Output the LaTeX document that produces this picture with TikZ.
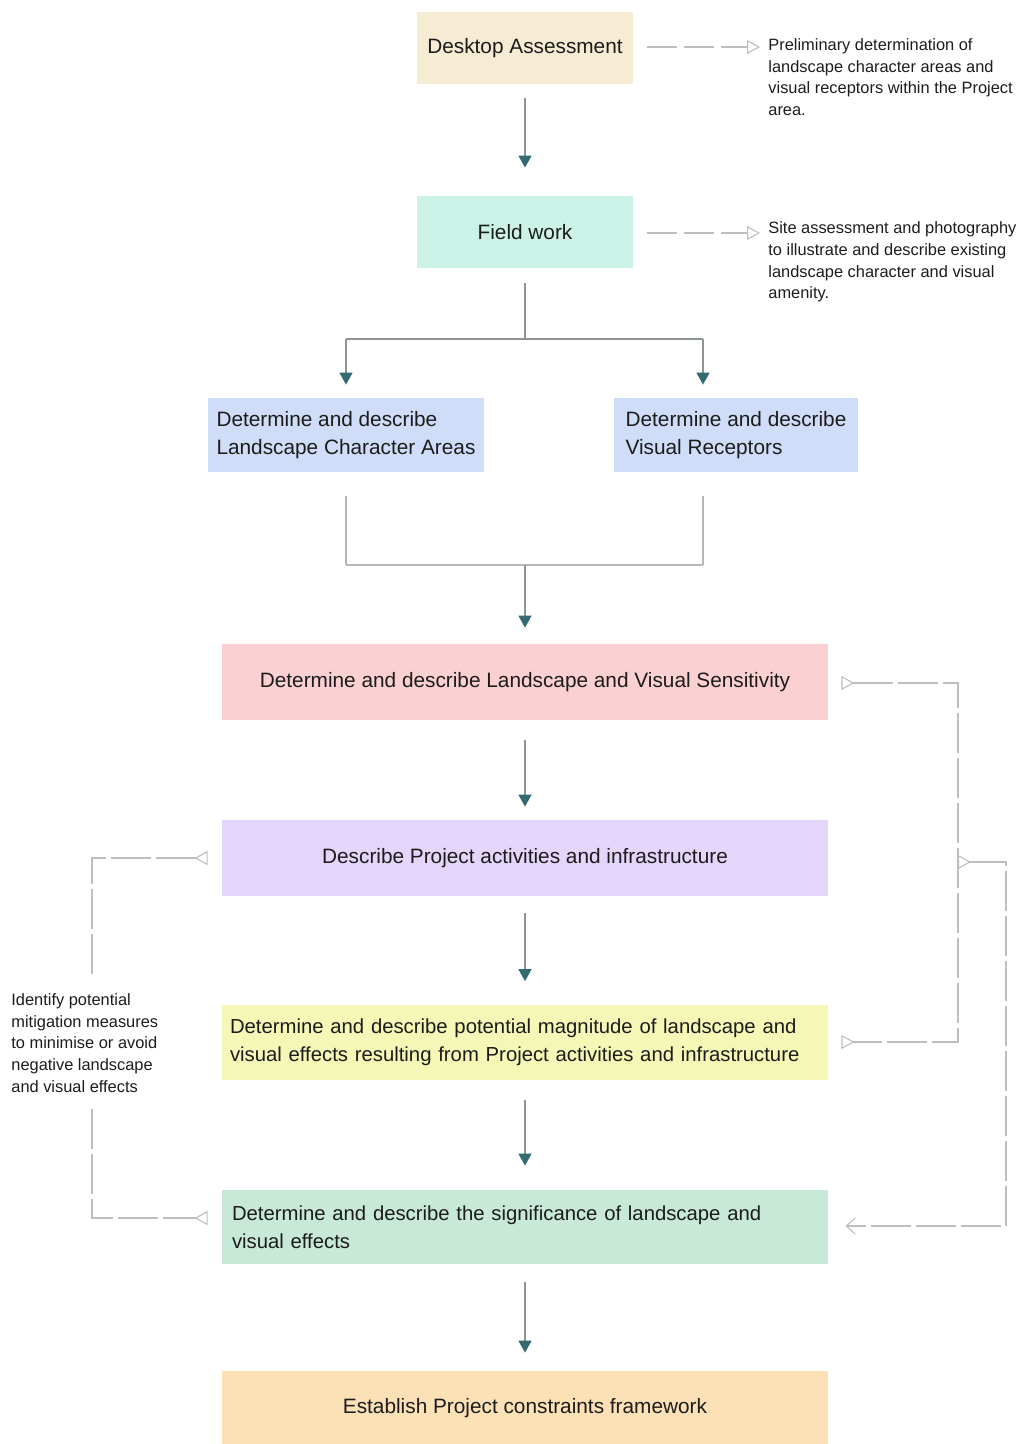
\documentclass[tikz,border=0pt]{standalone}
\usepackage{fontspec}
\setmainfont{Liberation Sans}
\usetikzlibrary{arrows.meta,calc}
\definecolor{cDesk}{HTML}{F6ECD4}
\definecolor{cField}{HTML}{CCF2E8}
\definecolor{cBlue}{HTML}{D0DDF8}
\definecolor{cPink}{HTML}{FAD0D2}
\definecolor{cLav}{HTML}{E4D5FA}
\definecolor{cYel}{HTML}{F4F7B6}
\definecolor{cGrn}{HTML}{C8E9D8}
\definecolor{cOrg}{HTML}{FCE0B6}
\definecolor{cTeal}{HTML}{336B70}
\definecolor{cLine}{HTML}{8F9496}
\definecolor{cLight}{HTML}{B4B8BA}
\definecolor{cDash}{HTML}{BEBEBE}
\definecolor{cText}{HTML}{1C1C1C}
\begin{document}
\begin{tikzpicture}[x=0.5pt,y=-0.5pt,
  box/.style={inner sep=0pt, text=cText, font=\fontsize{10.4}{13.8}\selectfont, align=center},
  lbox/.style={box, align=left},
  wbox/.style={lbox, font=\fontsize{10.15}{13.8}\selectfont},
  note/.style={inner sep=0pt, text=cText, font=\fontsize{8.2}{10.85}\selectfont, align=left},
  flow/.style={draw=cLine, line width=0.7pt, -{Triangle[length=6pt,width=6.5pt,color=cTeal]}},
  plain/.style={draw=cLine, line width=0.7pt},
  plainlight/.style={draw=cLight, line width=0.6pt},
  dashln/.style={draw=cDash, line width=0.55pt, dash pattern=on 20pt off 2.5pt},
  dashtop/.style={draw=cDash, line width=0.55pt, dash pattern=on 15pt off 3.5pt},
  otip/.tip={Triangle[open,length=6.5pt,width=7pt,fill=white]},
  rtip/.tip={Triangle[open,reversed,length=6.5pt,width=7pt,fill=white]},
  btip/.tip={Straight Barb[length=4.5pt,width=8pt]}
]
\useasboundingbox (0,0) rectangle (1022,1444);

% boxes
\node[box, fill=cDesk, minimum width=108pt, minimum height=36pt] (desk) at (525,48) {Desktop Assessment};
\node[box, fill=cField, minimum width=108pt, minimum height=36pt] (field) at (525,232) {Field work};
\node[lbox, fill=cBlue, minimum width=138pt, minimum height=37pt] (lca) at (346,435) {Determine and describe\\Landscape Character Areas};
\node[lbox, fill=cBlue, minimum width=122pt, minimum height=37pt] (vr) at (736,435) {Determine and describe\\Visual Receptors};
\node[box, fill=cPink, minimum width=303pt, minimum height=38pt] (sens) at (525,682) {Determine and describe Landscape and Visual Sensitivity};
\node[box, fill=cLav, minimum width=303pt, minimum height=38pt] (act) at (525,858) {Describe Project activities and infrastructure};
\node[wbox, fill=cYel, text width=295pt, inner xsep=4pt, minimum height=37.5pt] (mag) at (525,1042) {Determine and describe potential magnitude of landscape and\\visual effects resulting from Project activities and infrastructure};
\node[wbox, fill=cGrn, text width=293pt, inner xsep=5pt, minimum height=37pt] (sig) at (525,1227) {Determine and describe the significance of landscape and\\visual effects};
\node[box, fill=cOrg, minimum width=303pt, minimum height=37pt] (est) at (525,1408) {Establish Project constraints framework};

% notes
\node[note, anchor=west] (n1) at (768,77) {Preliminary determination of\\landscape character areas and\\visual receptors within the Project\\area.};
\node[note, anchor=west] (n2) at (768,262) {Site assessment and photography\\to illustrate and describe existing\\landscape character and visual\\amenity.};
\node[note, anchor=west, inner ysep=8pt] (n3) at (11,1043) {Identify potential\\mitigation measures\\to minimise or avoid\\negative landscape\\and visual effects};

% main flow
\draw[flow, shorten <=7pt, shorten >=14pt] (desk.south) -- (field.north);
\coordinate (split) at (525,339);
\coordinate (sl) at (346,339);
\coordinate (sr) at (703,339);
\draw[plain, shorten <=7.5pt] (field.south) -- (split);
\draw[plain] (sl) -- (sr);
\draw[flow, shorten >=6.5pt] (sl) -- (sl |- lca.north);
\draw[flow, shorten >=6.5pt] (sr) -- (sr |- vr.north);
\coordinate (ml) at (346,565);
\coordinate (mr) at (703,565);
\coordinate (merge) at (525,565);
\draw[plainlight, shorten <=12pt] (lca.south) -- (ml);
\draw[plainlight, shorten <=12pt] (mr |- vr.south) -- (mr);
\draw[plainlight] (ml) -- (mr);
\draw[flow, shorten >=8pt] (merge) -- (sens.north);
\draw[flow, shorten <=10pt, shorten >=6.5pt] (sens.south) -- (act.north);
\draw[flow, shorten <=8.5pt, shorten >=11.5pt] (act.south) -- (mag.north);
\draw[flow, shorten <=10pt, shorten >=12pt] (mag.south) -- (sig.north);
\draw[flow, shorten <=9pt, shorten >=9pt] (sig.south) -- (est.north);

% note arrows
\draw[dashtop, -otip, shorten <=7pt, shorten >=4pt] (desk.east |- 0,47) -- (n1.west |- 0,47);
\draw[dashtop, -otip, shorten <=7pt, shorten >=4pt] (field.east |- 0,233) -- (n2.west |- 0,233);

% right loops
\coordinate (r1a) at (958,683);
\coordinate (r1b) at (958,1042);
\draw[dashln, rtip-rtip, shorten <=6.5pt, shorten >=6.5pt] (sens.east |- r1a) -- (r1a) -- (r1b) -- (mag.east |- r1b);
\coordinate (r2a) at (1006,862);
\coordinate (r2b) at (1006,1226);
\draw[dashln, rtip-btip, shorten >=8.5pt] (r1a |- r2a) -- (r2a) -- (r2b) -- (sig.east |- r2b);

% left loop
\coordinate (l1) at (92,858);
\coordinate (l2) at (92,1218);
\draw[dashln, rtip-, shorten <=7pt] (act.west) -- (l1) -- (l1 |- n3.north);
\draw[dashln, -rtip, shorten >=7pt] (l1 |- n3.south) -- (l2) -- (sig.west |- l2);
\end{tikzpicture}
\end{document}
